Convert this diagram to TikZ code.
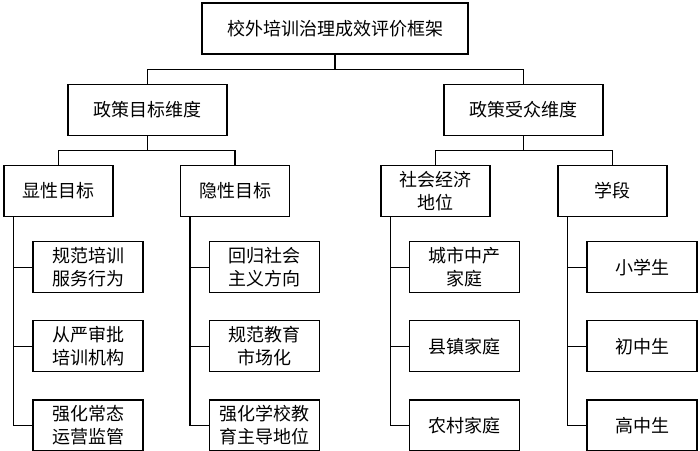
\documentclass[tikz,border=0pt]{standalone}
\usepackage{fontspec}
\newfontfamily\cjk{Noto Sans CJK SC}
\usetikzlibrary{positioning}
\tikzset{%
  cell/.style = {rectangle,draw,solid,line width=1.2pt,inner sep=0pt,
        align=center,minimum height=51pt,
        font=\cjk\fontsize{18}{23}\selectfont},
  rootbox/.style = {cell,minimum width=266pt},
  dimbox/.style = {cell,minimum width=159pt},
  subbox/.style = {cell,minimum width=109pt},
  leafbox/.style = {cell,minimum width=110pt},
  treeline/.style = {line width=1.2pt}
}

\begin{document}
\begin{tikzpicture}[x=1pt,y=1pt,node distance=29pt]
   \useasboundingbox (0,0) rectangle (700,-450);
   \node[rootbox] (root) at (335,-28.5) {校外培训治理成效评价框架};
   \node[dimbox] (goal) [below=of root,xshift=-187.5pt] {政策目标维度};
   \node[dimbox] (aud) [below=of root,xshift=188.5pt] {政策受众维度};

   \node[subbox] (expl) [below=of goal,xshift=-89pt] {显性目标};
   \node[subbox] (impl) [below=of goal,xshift=87.5pt] {隐性目标};
   \node[subbox] (ses) [below=of aud,xshift=-88pt] {社会经济\\地位};
   \node[subbox] (stage) [below=of aud,xshift=89pt] {学段};

   % leaves, column by column
   \node[leafbox] (expl1) [below=24pt of expl,xshift=29.5pt] {规范培训\\服务行为};
   \node[leafbox] (expl2) [below=27pt of expl1] {从严审批\\培训机构};
   \node[leafbox] (expl3) [below=27pt of expl2] {强化常态\\运营监管};

   \node[leafbox] (impl1) [below=24pt of impl,xshift=29.5pt] {回归社会\\主义方向};
   \node[leafbox] (impl2) [below=27pt of impl1] {规范教育\\市场化};
   \node[leafbox] (impl3) [below=27pt of impl2] {强化学校教\\育主导地位};

   \node[leafbox] (ses1) [below=24pt of ses,xshift=29pt] {城市中产\\家庭};
   \node[leafbox] (ses2) [below=27pt of ses1] {县镇家庭};
   \node[leafbox] (ses3) [below=27pt of ses2] {农村家庭};

   \node[leafbox] (stage1) [below=24pt of stage,xshift=29.5pt] {小学生};
   \node[leafbox] (stage2) [below=27pt of stage1] {初中生};
   \node[leafbox] (stage3) [below=27pt of stage2] {高中生};

   \draw[treeline] (root.south) -- ++(0,-15) -| (goal.north);
   \draw[treeline] (root.south) -- ++(0,-15) -| (aud.north);
   \draw[treeline] (goal.south) -- ++(0,-15) -| (expl.north);
   \draw[treeline] (goal.south) -- ++(0,-15) -| (impl.north);
   \draw[treeline] (aud.south) -- ++(0,-15) -| (ses.north);
   \draw[treeline] (aud.south) -- ++(0,-15) -| (stage.north);

   \draw[treeline] ([xshift=10pt]expl.south west) |- (expl1.west);
   \draw[treeline] ([xshift=10pt]expl.south west) |- (expl2.west);
   \draw[treeline] ([xshift=10pt]expl.south west) |- (expl3.west);
   \draw[treeline] ([xshift=10pt]impl.south west) |- (impl1.west);
   \draw[treeline] ([xshift=10pt]impl.south west) |- (impl2.west);
   \draw[treeline] ([xshift=10pt]impl.south west) |- (impl3.west);
   \draw[treeline] ([xshift=10pt]ses.south west) |- (ses1.west);
   \draw[treeline] ([xshift=10pt]ses.south west) |- (ses2.west);
   \draw[treeline] ([xshift=10pt]ses.south west) |- (ses3.west);
   \draw[treeline] ([xshift=10pt]stage.south west) |- (stage1.west);
   \draw[treeline] ([xshift=10pt]stage.south west) |- (stage2.west);
   \draw[treeline] ([xshift=10pt]stage.south west) |- (stage3.west);
\end{tikzpicture}
\end{document}
